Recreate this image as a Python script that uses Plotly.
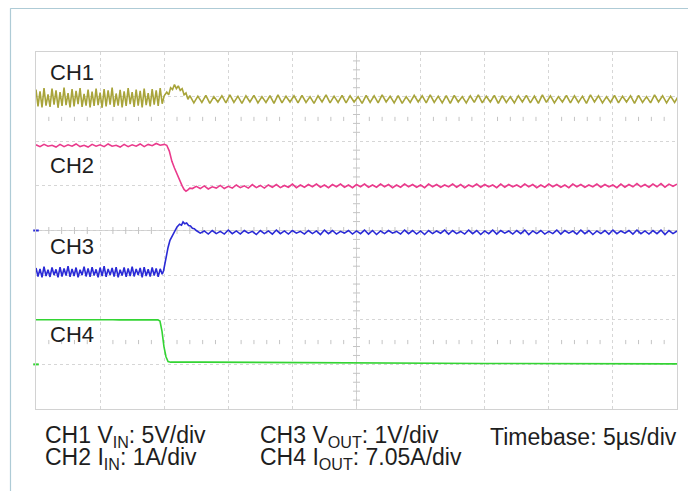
import numpy as np
import plotly.graph_objects as go

# ---------------- scope settings ----------------
TIME_PER_DIV = 5.0          # µs / div
N_XDIV, N_YDIV = 10, 8
CH_NAMES = ["CH1", "CH2", "CH3", "CH4"]
CH_SCALE = {"CH1": 5.0, "CH2": 1.0, "CH3": 1.0, "CH4": 7.05}   # units / div
CH_REF = {"CH1": 7.0, "CH2": 5.0, "CH3": 4.0, "CH4": 1.0}      # reference level (div)
CH_COLOR = {"CH1": "#a8a43a", "CH2": "#ea3a8c", "CH3": "#2a2ad6", "CH4": "#33d433"}

# ---------------- CH1  V_IN (V, AC coupled) ----------------
ch1_pre_t0, ch1_pre_dt = 0.0, 0.15625
ch1_pre = [0.8, -1.1, 0.6, -1.2, 0.95, -1.0, 0.25, -1.15, 0.9, -0.9,
           0.7, -1.25, 0.5, -1.05, 1.0, -0.95, 0.4, -1.2, 0.85, -1.1,
           0.65, -0.85, 0.95, -1.15, 0.3, -1.0, 0.8, -1.2, 0.55, -1.05,
           0.9, -0.95, 0.45, -1.25, 0.85, -1.1, 0.7, -0.9, 1.0, -1.15,
           0.35, -1.0, 0.75, -1.2, 0.6, -1.05, 0.95, -0.85, 0.5, -1.15,
           0.8, -1.0, 0.65, -1.2, 0.9, -0.95, 0.4, -1.1, 0.85, -0.9,
           0.7, -1.05, 0.95, -0.8, 0.1]
ch1_edge_t = [10.2, 10.35, 10.5, 10.65, 10.8, 10.95, 11.1, 11.25, 11.4, 11.55, 11.7, 11.85]
ch1_edge = [0.5, 0.2, 1.0, 0.8, 1.35, 0.9, 1.2, 0.7, 0.9, 0.2, 0.4, -0.3]
ch1_post_t0, ch1_post_dt = 12.0, 0.3125
ch1_post = [0.1, -0.7, 0.05, -0.65, 0.15, -0.75, 0.0, -0.6, 0.1, -0.7,
            0.2, -0.65, 0.05, -0.75, 0.1, -0.6, 0.15, -0.7, 0.0, -0.65,
            0.1, -0.75, 0.2, -0.7, 0.05, -0.6, 0.1, -0.7, 0.15, -0.65,
            0.0, -0.75, 0.1, -0.6, 0.2, -0.7, 0.05, -0.65, 0.15, -0.7,
            0.1, -0.6, 0.0, -0.75, 0.15, -0.65, 0.1, -0.7, 0.2, -0.6,
            0.05, -0.7, 0.1, -0.75, 0.0, -0.65, 0.15, -0.6, 0.1, -0.7,
            0.2, -0.65, 0.05, -0.7, 0.1, -0.75, 0.15, -0.6, 0.0, -0.7,
            0.1, -0.65, 0.2, -0.7, 0.05, -0.6, 0.15, -0.75, 0.1, -0.65,
            0.0, -0.7, 0.1, -0.6, 0.15, -0.7, 0.05, -0.75, 0.2, -0.65,
            0.1, -0.7, 0.0, -0.6, 0.15, -0.7, 0.1, -0.65, 0.05, -0.75,
            0.2, -0.6, 0.1, -0.7, 0.0, -0.65, 0.15, -0.7, 0.05, -0.6,
            0.1, -0.75, 0.15, -0.65, 0.0, -0.7, 0.2, -0.6, 0.1, -0.7,
            0.05, -0.65, 0.1]

# ---------------- CH2  I_IN (A) ----------------
ch2_pre_t0, ch2_pre_dt = 0.0, 0.3125
ch2_pre = [0.92, 0.88, 0.93, 0.89, 0.91, 0.87, 0.93, 0.88, 0.92, 0.89,
           0.94, 0.88, 0.91, 0.87, 0.93, 0.89, 0.92, 0.88, 0.94, 0.89,
           0.91, 0.87, 0.93, 0.88, 0.92, 0.89, 0.94, 0.88, 0.93, 0.90,
           0.95, 0.91, 0.93]
ch2_edge_t = [10.2, 10.4, 10.6, 10.8, 11.0, 11.2, 11.4, 11.55, 11.7, 11.85, 12.0, 12.2]
ch2_edge = [0.91, 0.78, 0.55, 0.40, 0.26, 0.12, 0.0, -0.08, -0.12, -0.09, -0.05, -0.06]
ch2_post_t0, ch2_post_dt = 12.5, 0.3125
ch2_post = [-0.01, -0.06, 0.0, -0.07, -0.02, -0.05, 0.01, -0.06, -0.01, -0.05,
            0.02, -0.04, 0.0, -0.05, 0.03, -0.04, 0.01, -0.05, 0.02, -0.03,
            0.03, -0.04, 0.01, -0.03, 0.04, -0.04, 0.02, -0.03, 0.03, -0.02,
            0.04, -0.03, 0.02, -0.04, 0.03, -0.02, 0.04, -0.03, 0.02, -0.04,
            0.03, -0.02, 0.04, -0.03, 0.02, -0.03, 0.04, -0.02, 0.03, -0.04,
            0.02, -0.03, 0.04, -0.02, 0.03, -0.03, 0.02, -0.04, 0.04, -0.02,
            0.03, -0.03, 0.02, -0.02, 0.04, -0.03, 0.03, -0.04, 0.02, -0.02,
            0.04, -0.03, 0.03, -0.02, 0.02, -0.04, 0.04, -0.03, 0.03, -0.02,
            0.02, -0.03, 0.04, -0.02, 0.03, -0.04, 0.02, -0.03, 0.04, -0.02,
            0.03, -0.03, 0.02, -0.04, 0.04, -0.02, 0.03, -0.03, 0.02, -0.02,
            0.04, -0.03, 0.03, -0.02, 0.02, -0.04, 0.04, -0.03, 0.03, -0.02,
            0.05, -0.02, 0.03, -0.03, 0.04, -0.02, 0.05, -0.03, 0.04, -0.01,
            0.04]

# ---------------- CH3  V_OUT (V, AC coupled) ----------------
ch3_pre_t0, ch3_pre_dt = 0.0, 0.15625
ch3_pre = [-0.84, -1.03, -0.86, -1.05, -0.81, -1.02, -0.88, -1.04, -0.83, -1.0,
           -0.87, -1.05, -0.82, -1.03, -0.85, -1.01, -0.8, -1.04, -0.86, -1.02,
           -0.83, -1.05, -0.88, -1.0, -0.81, -1.03, -0.85, -1.04, -0.82, -1.01,
           -0.87, -1.05, -0.83, -1.02, -0.8, -1.04, -0.86, -1.0, -0.84, -1.03,
           -0.82, -1.05, -0.88, -1.01, -0.83, -1.04, -0.85, -1.02, -0.81, -1.03,
           -0.86, -1.0, -0.84, -1.05, -0.82, -1.02, -0.87, -1.03, -0.83, -1.01,
           -0.85, -1.04, -0.86, -0.98]
ch3_edge_t = [9.95, 10.06, 10.2, 10.3, 10.45, 10.61, 10.8, 11.0, 11.2, 11.35,
              11.47, 11.6, 11.75, 11.9, 12.05, 12.2, 12.35]
ch3_edge = [-0.9, -0.72, -0.55, -0.38, -0.22, -0.13, -0.02, 0.08, 0.14, 0.12,
            0.19, 0.15, 0.17, 0.11, 0.1, 0.05, 0.04]
ch3_post_t0, ch3_post_dt = 12.5, 0.3125
ch3_post = [0.0, -0.06, -0.01, -0.08, 0.0, -0.07, -0.02, -0.08, 0.01, -0.07,
            -0.01, -0.08, 0.0, -0.06, -0.02, -0.09, 0.0, -0.07, -0.01, -0.08,
            0.01, -0.07, -0.01, -0.08, 0.0, -0.06, -0.02, -0.08, 0.0, -0.07,
            -0.01, -0.09, 0.01, -0.07, 0.0, -0.08, -0.02, -0.06, 0.0, -0.08,
            -0.01, -0.07, 0.01, -0.08, 0.0, -0.09, -0.01, -0.07, 0.0, -0.06,
            -0.02, -0.08, 0.01, -0.07, 0.0, -0.08, -0.01, -0.09, 0.0, -0.07,
            -0.01, -0.06, 0.01, -0.08, 0.0, -0.07, -0.02, -0.08, 0.01, -0.07,
            0.0, -0.09, -0.01, -0.07, 0.01, -0.08, 0.0, -0.06, -0.01, -0.08,
            0.0, -0.07, 0.01, -0.09, -0.01, -0.07, 0.0, -0.08, -0.02, -0.07,
            0.01, -0.08, 0.0, -0.06, -0.01, -0.08, 0.01, -0.07, 0.0, -0.09,
            -0.01, -0.07, 0.0, -0.08, 0.01, -0.07, -0.01, -0.06, 0.0, -0.08,
            0.01, -0.07, -0.01, -0.08, 0.0, -0.07, 0.01, -0.09, 0.0, -0.07,
            -0.01]

# ---------------- CH4  I_OUT (A) ----------------
ch4_pre_t0, ch4_pre_dt = 0.0, 0.5
ch4_pre = [7.05, 7.08, 7.03, 7.06, 7.04, 7.07, 7.05, 7.02, 7.06, 7.05,
           7.08, 7.04, 7.06, 7.03, 7.05, 7.07, 7.04, 7.06, 7.05, 7.03]
ch4_edge_t = [9.67, 9.83, 9.98, 10.14, 10.3, 10.5]
ch4_edge = [6.85, 5.2, 2.8, 1.2, 0.45, 0.35]
ch4_post_t0, ch4_post_dt = 11.0, 2.0
ch4_post = [0.38, 0.36, 0.33, 0.30, 0.28, 0.26, 0.24, 0.22, 0.20, 0.19,
            0.17, 0.16, 0.14, 0.13, 0.12, 0.11, 0.10, 0.09, 0.08, 0.07, 0.07]

# ---------------- text ----------------
scale_text = [
    ["CH1 V<sub>IN</sub>: 5V/div", "CH2 I<sub>IN</sub>: 1A/div"],
    ["CH3 V<sub>OUT</sub>: 1V/div", "CH4 I<sub>OUT</sub>: 7.05A/div"],
    ["Timebase: 5µs/div", ""],
]

CHANNELS = {
    "CH1": (ch1_pre_t0, ch1_pre_dt, ch1_pre, ch1_edge_t, ch1_edge, ch1_post_t0, ch1_post_dt, ch1_post),
    "CH2": (ch2_pre_t0, ch2_pre_dt, ch2_pre, ch2_edge_t, ch2_edge, ch2_post_t0, ch2_post_dt, ch2_post),
    "CH3": (ch3_pre_t0, ch3_pre_dt, ch3_pre, ch3_edge_t, ch3_edge, ch3_post_t0, ch3_post_dt, ch3_post),
    "CH4": (ch4_pre_t0, ch4_pre_dt, ch4_pre, ch4_edge_t, ch4_edge, ch4_post_t0, ch4_post_dt, ch4_post),
}


def build(name):
    p0, pdt, pv, et, ev, q0, qdt, qv = CHANNELS[name]
    t = np.concatenate([p0 + pdt * np.arange(len(pv)), np.array(et), q0 + qdt * np.arange(len(qv))])
    v = np.concatenate([np.array(pv), np.array(ev), np.array(qv)])
    return t, CH_REF[name] + v / CH_SCALE[name]


X_MAX = N_XDIV * TIME_PER_DIV
fig = go.Figure()

GRID = "#d6d6d6"
FONT = "Liberation Sans, Arial, sans-serif"
TXT = "#1e1e1e"

# graticule centre-line minor ticks and 10%/90% dotted rows
minor_x = [x for x in np.arange(0, X_MAX + 1e-9, TIME_PER_DIV / 5) if abs(x / TIME_PER_DIV - round(x / TIME_PER_DIV)) > 1e-6]
minor_y = [y for y in np.arange(0, N_YDIV + 1e-9, 0.2) if abs(y - round(y)) > 1e-6]
for yrow in (N_YDIV / 2 - 2.5, N_YDIV / 2 + 2.5):
    fig.add_trace(go.Scatter(x=minor_x, y=[yrow] * len(minor_x), mode="markers",
                             marker=dict(symbol="line-ns", size=3, line=dict(color="#c4c4c4", width=1)),
                             hoverinfo="skip", showlegend=False))
fig.add_trace(go.Scatter(x=minor_x, y=[N_YDIV / 2] * len(minor_x), mode="markers",
                         marker=dict(symbol="line-ns", size=5, line=dict(color="#c4c4c4", width=1)),
                         hoverinfo="skip", showlegend=False))
fig.add_trace(go.Scatter(x=[X_MAX / 2] * len(minor_y), y=minor_y, mode="markers",
                         marker=dict(symbol="line-ew", size=5, line=dict(color="#c4c4c4", width=1)),
                         hoverinfo="skip", showlegend=False))

for name in CH_NAMES:
    t, y = build(name)
    fig.add_trace(go.Scatter(x=t, y=y, mode="lines", name=name,
                             line=dict(color=CH_COLOR[name], width=1.6),
                             hoverinfo="skip", showlegend=False))

# channel reference markers at left edge
for name in ["CH3", "CH4"]:
    fig.add_trace(go.Scatter(x=[0], y=[CH_REF[name]], mode="markers",
                             marker=dict(symbol="line-ew", size=4, line=dict(color=CH_COLOR[name], width=2)),
                             hoverinfo="skip", showlegend=False, cliponaxis=False))

axis_common = dict(showgrid=True, gridcolor=GRID, griddash="dot", gridwidth=1,
                   showticklabels=False, ticks="", zeroline=False,
                   showline=True, linecolor="#d2d2d2", linewidth=1, mirror=True, fixedrange=True)

# the page body adds an 8px margin, so the figure is sized to fill the rest of the window
fig.update_layout(
    width=688, height=483,
    margin=dict(l=28, r=19, t=44, b=82),
    paper_bgcolor="white", plot_bgcolor="white",
    xaxis=dict(range=[0, X_MAX], tick0=0, dtick=TIME_PER_DIV, **axis_common),
    yaxis=dict(range=[0, N_YDIV], tick0=0, dtick=1, **axis_common),
    showlegend=False,
)

# centre lines (solid)
fig.add_shape(type="line", xref="x", yref="y", x0=X_MAX / 2, x1=X_MAX / 2, y0=0, y1=N_YDIV,
              line=dict(color="#cdcdcd", width=1), layer="below")
fig.add_shape(type="line", xref="x", yref="y", x0=0, x1=X_MAX, y0=N_YDIV / 2, y1=N_YDIV / 2,
              line=dict(color="#cdcdcd", width=1), layer="below")

# outer frame (left & top)
FRAME = "#aecbd6"
fig.add_shape(type="line", xref="paper", yref="paper", x0=-0.0398, x1=-0.0398, y0=1.1223, y1=-0.3,
              line=dict(color=FRAME, width=1.2))
fig.add_shape(type="line", xref="paper", yref="paper", x0=-0.0398, x1=1.05, y0=1.1223, y1=1.1223,
              line=dict(color=FRAME, width=1.2))

# channel labels inside graticule
label_pos = {"CH1": 7.55, "CH2": 5.45, "CH3": 3.65, "CH4": 1.68}
for name in CH_NAMES:
    fig.add_annotation(x=0.9, y=label_pos[name], xref="x", yref="y", text=name, showarrow=False,
                       xanchor="left", yanchor="middle", font=dict(family=FONT, size=22, color=TXT))

# scale texts below
col_x = [0.0109, 0.3463, 0.7051]
row_y = [-0.0774, -0.1376]
for ci, col in enumerate(scale_text):
    for ri, txt in enumerate(col):
        if txt:
            fig.add_annotation(x=col_x[ci], y=row_y[ri], xref="paper", yref="paper", text=txt,
                               showarrow=False, xanchor="left", yanchor="middle",
                               font=dict(family=FONT, size=23, color=TXT))

fig.write_html("out.html")
